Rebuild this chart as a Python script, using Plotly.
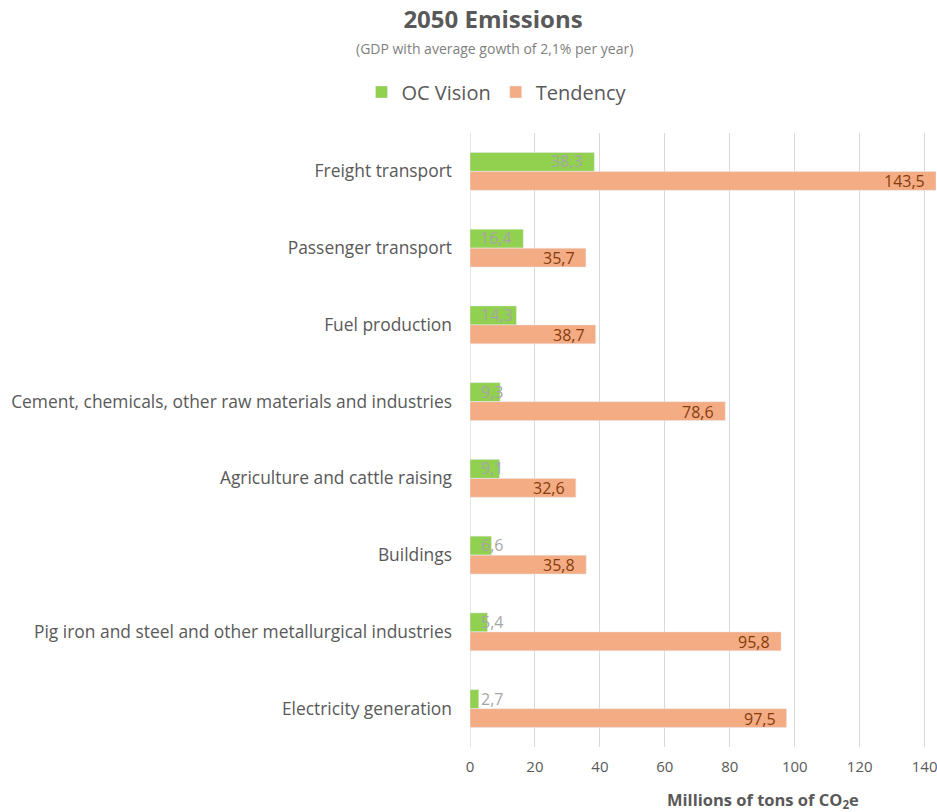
import plotly.graph_objects as go

categories = ["Freight transport", "Passenger transport", "Fuel production",
              "Cement, chemicals, other raw materials and industries",
              "Agriculture and cattle raising", "Buildings",
              "Pig iron and steel and other metallurgical industries",
              "Electricity generation"]
oc_vision = [38.3, 16.4, 14.3, 9.3, 9.1, 6.6, 5.4, 2.7]
tendency = [143.5, 35.7, 38.7, 78.6, 32.6, 35.8, 95.8, 97.5]
x_ticks = [0, 20, 40, 60, 80, 100, 120, 140]

def fmt(v):
    return f"{v:.1f}".replace(".", ",")

FONT = "Open Sans"
GREEN = "#92D050"
ORANGE = "#F4AC84"

TOP, BOTTOM, LEFT, RIGHT = 133, 747, 470, 936
PH = BOTTOM - TOP
PW = RIGHT - LEFT

fig = go.Figure()
fig.add_trace(go.Bar(name="OC Vision", y=categories, x=oc_vision, orientation="h",
                     marker_color=GREEN, hoverinfo="x+y"))
fig.add_trace(go.Bar(name="Tendency", y=categories, x=tendency, orientation="h",
                     marker_color=ORANGE, hoverinfo="x+y"))

annotations = []
# green labels: inside end, but never left of the axis
for cat, v in zip(categories, oc_vision):
    if v >= 15:
        annotations.append(dict(x=v, y=cat, xref="x", yref="y", text=fmt(v), showarrow=False,
                                xanchor="right", xshift=-9, yshift=10,
                                font=dict(color="#A6A6A6", size=16, family=FONT)))
    else:
        annotations.append(dict(x=0, y=cat, xref="x", yref="y", text=fmt(v), showarrow=False,
                                xanchor="left", xshift=9, yshift=10,
                                font=dict(color="#A6A6A6", size=16, family=FONT)))
# orange labels: inside end
for cat, v in zip(categories, tendency):
    annotations.append(dict(x=v, y=cat, xref="x", yref="y", text=fmt(v), showarrow=False,
                            xanchor="right", xshift=-9, yshift=-10,
                            font=dict(color="#843C0C", size=16, family=FONT)))

annotations.append(dict(xref="paper", yref="paper", x=(763 - LEFT) / PW, y=-(800 - BOTTOM) / PH,
                        text="<b>Millions of tons of CO<sub>2</sub>e</b>", showarrow=False,
                        xanchor="center", yanchor="middle",
                        font=dict(color="#595959", size=16.5, family=FONT)))
annotations.append(dict(xref="paper", yref="paper", x=(494 - LEFT) / PW, y=(BOTTOM - 49) / PH,
                        text="(GDP with average gowth of 2,1% per year)", showarrow=False,
                        xanchor="center", yanchor="middle",
                        font=dict(color="#7F7F7F", size=14, family=FONT)))

fig.update_layout(
    width=937, height=812,
    margin=dict(l=LEFT, r=937 - RIGHT, t=TOP, b=812 - BOTTOM),
    paper_bgcolor="white", plot_bgcolor="white",
    barmode="group", bargap=0.505, bargroupgap=0,
    font=dict(family=FONT, color="#595959"),
    title=dict(text="<b>2050 Emissions</b>", x=493 / 937, xanchor="center",
               y=1 - 20 / 812, yanchor="middle", font=dict(size=24, color="#595959", family=FONT)),
    legend=dict(orientation="h", x=497 / 937, xref="container", xanchor="center",
                y=1 - 92 / 812, yref="container", yanchor="middle",
                font=dict(size=20, color="#595959", family=FONT),
                traceorder="normal"),
    annotations=annotations,
    xaxis=dict(range=[0, 143.5], tickvals=x_ticks, showgrid=True, gridcolor="#D9D9D9",
               gridwidth=1.3, zeroline=False, showline=False, ticks="",
               ticklabeloverflow="allow", ticklabelstandoff=9,
               tickfont=dict(size=15, color="#595959", family=FONT)),
    yaxis=dict(autorange="reversed", showgrid=False, ticks="", showline=False,
               ticklabelstandoff=17, tickfont=dict(size=17.4, color="#595959", family=FONT)),
    showlegend=True,
)
fig.add_vline(x=0, line_color="#D9D9D9", line_width=1.3, layer="below")

fig.write_html("out.html")
